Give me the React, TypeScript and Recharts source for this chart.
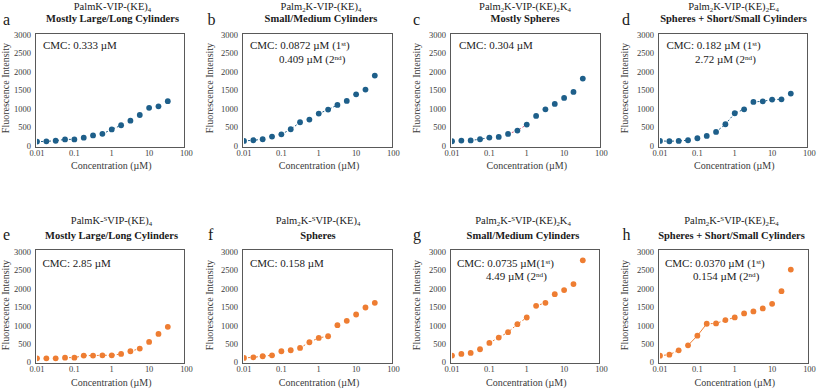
import React from 'react';
import { ScatterChart, Scatter, XAxis, YAxis } from 'recharts';

// concentration steps (µM), quarter-decade dilution series
const concentrations = [0.01, 0.0178, 0.0316, 0.0562, 0.1, 0.178, 0.316, 0.562, 1, 1.78, 3.16, 5.62, 10, 17.8, 31.6];

// fluorescence intensity
const intensityA = [108, 115, 132, 168, 168, 215, 275, 318, 438, 552, 675, 830, 1025, 1065, 1205];
const intensityB = [127, 145, 172, 244, 307, 443, 633, 705, 868, 976, 1103, 1211, 1392, 1519, 1898];
const intensityC = [118, 136, 140, 172, 217, 235, 316, 407, 570, 805, 985, 1130, 1293, 1456, 1817];
const intensityD = [127, 118, 127, 145, 199, 262, 371, 579, 877, 985, 1184, 1202, 1247, 1256, 1410];
const intensityE = [109, 109, 109, 127, 127, 182, 182, 191, 191, 227, 300, 373, 555, 773, 964];
const intensityF = [118, 136, 164, 191, 300, 327, 391, 545, 664, 709, 1009, 1127, 1300, 1491, 1618];
const intensityG = [182, 227, 255, 355, 527, 673, 818, 1036, 1218, 1536, 1618, 1854, 1964, 2127, 2773];
const intensityH = [181, 208, 325, 461, 723, 1048, 1057, 1148, 1220, 1328, 1383, 1464, 1590, 1934, 2521];

const xTicks = [0.01, 0.1, 1, 10, 100];
const yTicks = [0, 500, 1000, 1500, 2000, 2500, 3000];

const BLUE = '#1e5f8a';
const ORANGE = '#ee7d32';
const PINK = '#d4587f';
const FONT = "'Liberation Serif', 'DejaVu Serif', 'Times New Roman', Times, serif";
const PLOT_W = 149.5;

type Seg = { from: number; to: number; color?: string; solid?: boolean };

type PanelDef = {
  letter: string;
  title: React.ReactNode;
  subtitle: string;
  cmc: React.ReactNode[];
  values: number[];
  color: string;
  segs: Seg[];
  plotLeft: number;
  row: number;
  titleX: number;
  letterX: number;
  cmcX: number[];
  yTitleX: number;
};

const S = ({ c }: { c: string }) => <sub style={{ fontSize: '0.65em', lineHeight: 0, verticalAlign: '-0.3em' }}>{c}</sub>;
const P = ({ c }: { c: string }) => <sup style={{ fontSize: '0.65em', lineHeight: 0, verticalAlign: '0.45em' }}>{c}</sup>;

const panels: PanelDef[] = [
  {
    letter: 'a', title: <>PalmK-VIP-(KE)<S c="4" /></>, subtitle: 'Mostly Large/Long Cylinders',
    cmc: [<>CMC: 0.333 µM</>], values: intensityA, color: BLUE,
    segs: [{ from: 0, to: 4 }, { from: 7, to: 9 }],
    plotLeft: 36.5, row: 0, titleX: 112.5, letterX: 3, cmcX: [43], yTitleX: 6,
  },
  {
    letter: 'b', title: <>Palm<S c="2" />K-VIP-(KE)<S c="4" /></>, subtitle: 'Small/Medium Cylinders',
    cmc: [<>CMC: 0.0872 µM (1<P c="st" />)</>, <>0.409 µM (2<P c="nd" />)</>], values: intensityB, color: BLUE,
    segs: [{ from: 0, to: 2 }, { from: 4, to: 6 }, { from: 8, to: 10 }],
    plotLeft: 244.3, row: 0, titleX: 321, letterX: 207.5, cmcX: [250, 279], yTitleX: 210,
  },
  {
    letter: 'c', title: <>Palm<S c="2" />K-VIP-(KE)<S c="2" />K<S c="4" /></>, subtitle: 'Mostly Spheres',
    cmc: [<>CMC: 0.304 µM</>], values: intensityC, color: BLUE,
    segs: [{ from: 2, to: 4 }, { from: 6, to: 8, color: PINK }],
    plotLeft: 452, row: 0, titleX: 525, letterX: 413, cmcX: [459], yTitleX: 417,
  },
  {
    letter: 'd', title: <>Palm<S c="2" />K-VIP-(KE)<S c="2" />E<S c="4" /></>, subtitle: 'Spheres + Short/Small Cylinders',
    cmc: [<>CMC: 0.182 µM (1<P c="st" />)</>, <>2.72 µM (2<P c="nd" />)</>], values: intensityD, color: BLUE,
    segs: [{ from: 0, to: 3 }, { from: 6, to: 9 }, { from: 10, to: 13 }],
    plotLeft: 659.5, row: 0, titleX: 733.5, letterX: 622, cmcX: [666.5, 695], yTitleX: 625,
  },
  {
    letter: 'e', title: <>PalmK-<P c="S" />VIP-(KE)<S c="4" /></>, subtitle: 'Mostly Large/Long Cylinders',
    cmc: [<>CMC: 2.85 µM</>], values: intensityE, color: ORANGE,
    segs: [{ from: 3, to: 9 }, { from: 10, to: 11 }],
    plotLeft: 36.5, row: 1, titleX: 111.5, letterX: 3, cmcX: [42.5], yTitleX: 6,
  },
  {
    letter: 'f', title: <>Palm<S c="2" />K-<P c="S" />VIP-(KE)<S c="4" /></>, subtitle: 'Spheres',
    cmc: [<>CMC: 0.158 µM</>], values: intensityF, color: ORANGE,
    segs: [{ from: 0, to: 3 }, { from: 6, to: 9 }],
    plotLeft: 244.3, row: 1, titleX: 318, letterX: 208, cmcX: [250], yTitleX: 210,
  },
  {
    letter: 'g', title: <>Palm<S c="2" />K-<P c="S" />VIP-(KE)<S c="2" />K<S c="4" /></>, subtitle: 'Small/Medium Cylinders',
    cmc: [<>CMC: 0.0735 µM(1<P c="st" />)</>, <>4.49 µM (2<P c="nd" />)</>], values: intensityG, color: ORANGE,
    segs: [{ from: 4, to: 8 }, { from: 9, to: 10 }],
    plotLeft: 451.5, row: 1, titleX: 523, letterX: 413, cmcX: [457, 486], yTitleX: 417,
  },
  {
    letter: 'h', title: <>Palm<S c="2" />K-<P c="S" />VIP-(KE)<S c="2" />E<S c="4" /></>, subtitle: 'Spheres + Short/Small Cylinders',
    cmc: [<>CMC: 0.0370 µM (1<P c="st" />)</>, <>0.154 µM (2<P c="nd" />)</>], values: intensityH, color: ORANGE,
    segs: [{ from: 0, to: 2 }, { from: 3, to: 5, solid: true }, { from: 5, to: 8 }],
    plotLeft: 660, row: 1, titleX: 731.5, letterX: 622.5, cmcX: [665, 693], yTitleX: 625,
  },
];

// per-row vertical layout (baselines of texts, plot top/bottom)
const rows = [
  { plotTop: 35, plotBottom: 145.6, titleBase: 10.8, subBase: 23, letterBase: 25, cmcBase: [49.3, 63.3], xTitleBase: 169, yTitleY: 88 },
  { plotTop: 251.5, plotBottom: 361.8, titleBase: 224.3, subBase: 239.3, letterBase: 240, cmcBase: [267.7, 280], xTitleBase: 386.5, yTitleY: 305 },
];

const txt = (left: number, base: number, size: number, extra: React.CSSProperties = {}): React.CSSProperties => ({
  position: 'absolute', left, top: base - 0.837 * size, fontSize: size, lineHeight: 1,
  fontFamily: FONT, whiteSpace: 'nowrap', color: '#1a1a1a', ...extra,
});

const tickStyle = { fontSize: 8.5, fill: '#3a3a3a', fontFamily: FONT };

function Panel({ p }: { p: PanelDef }) {
  const r = rows[p.row];
  const plotH = r.plotBottom - r.plotTop;
  const axisW = 34;
  const mTop = 8;
  const xH = 20;
  const data = concentrations.map((x, i) => ({ x, y: p.values[i] }));
  const noDot = () => <g />;
  return (
    <>
      <div style={{ position: 'absolute', left: p.plotLeft - axisW, top: r.plotTop - mTop }}>
        <ScatterChart width={axisW + PLOT_W + 12} height={mTop + plotH + xH} margin={{ top: mTop, right: 12, bottom: 0, left: 0 }}
          style={{ fontFamily: FONT }}>
          <XAxis type="number" dataKey="x" scale="log" domain={[0.01, 100]} ticks={xTicks} allowDataOverflow
            axisLine={false} tickLine={false} tickSize={2} tickMargin={2} height={xH} tick={tickStyle}
            tickFormatter={(v: number) => String(v)} />
          <YAxis type="number" dataKey="y" domain={[0, 3000]} ticks={yTicks} axisLine={false} tickLine={false}
            tickSize={3} tickMargin={3} width={axisW} tick={tickStyle} />
          {p.segs.map((s, i) => (
            <Scatter key={i} data={data.slice(s.from, s.to + 1)} shape={noDot} isAnimationActive={false}
              line={{ stroke: s.color || p.color, strokeWidth: 1, strokeDasharray: s.solid ? undefined : '2 2' }} />
          ))}
          <Scatter data={data} isAnimationActive={false}
            shape={(q: any) => <circle cx={q.cx} cy={q.cy} r={2.9} fill={p.color} />} />
        </ScatterChart>
      </div>
      <div style={{
        position: 'absolute', left: p.plotLeft - 2, top: r.plotTop - 2.5, width: PLOT_W + 1, height: plotH + 5,
        border: '1px solid #595959', boxSizing: 'border-box', pointerEvents: 'none',
      }} />
      <div style={txt(p.titleX, r.titleBase, 10.5, { transform: 'translateX(-50%)' })}>{p.title}</div>
      <div style={txt(p.titleX, r.subBase, 10.5, { transform: 'translateX(-50%)', fontWeight: 'bold' })}>{p.subtitle}</div>
      <div style={txt(p.letterX, r.letterBase, 16)}>{p.letter}</div>
      {p.cmc.map((c, i) => (
        <div key={i} style={txt(p.cmcX[i], r.cmcBase[i], 11)}>{c}</div>
      ))}
      <div style={txt(p.plotLeft + PLOT_W / 2, r.xTitleBase, 10, { transform: 'translateX(-50%)', color: '#3a3a3a' })}>
        Concentration (µM)
      </div>
      <div style={{
        position: 'absolute', left: p.yTitleX, top: r.yTitleY, fontSize: 10, lineHeight: 1, fontFamily: FONT,
        whiteSpace: 'nowrap', color: '#3a3a3a', transform: 'translate(-50%, -50%) rotate(-90deg)',
      }}>
        Fluorescence Intensity
      </div>
    </>
  );
}

export default function App() {
  return (
    <div style={{ position: 'absolute', left: 0, top: 0, width: 817, height: 390, background: '#fff', overflow: 'hidden', fontFamily: FONT }}>
      {panels.map((p) => <Panel key={p.letter} p={p} />)}
    </div>
  );
}
